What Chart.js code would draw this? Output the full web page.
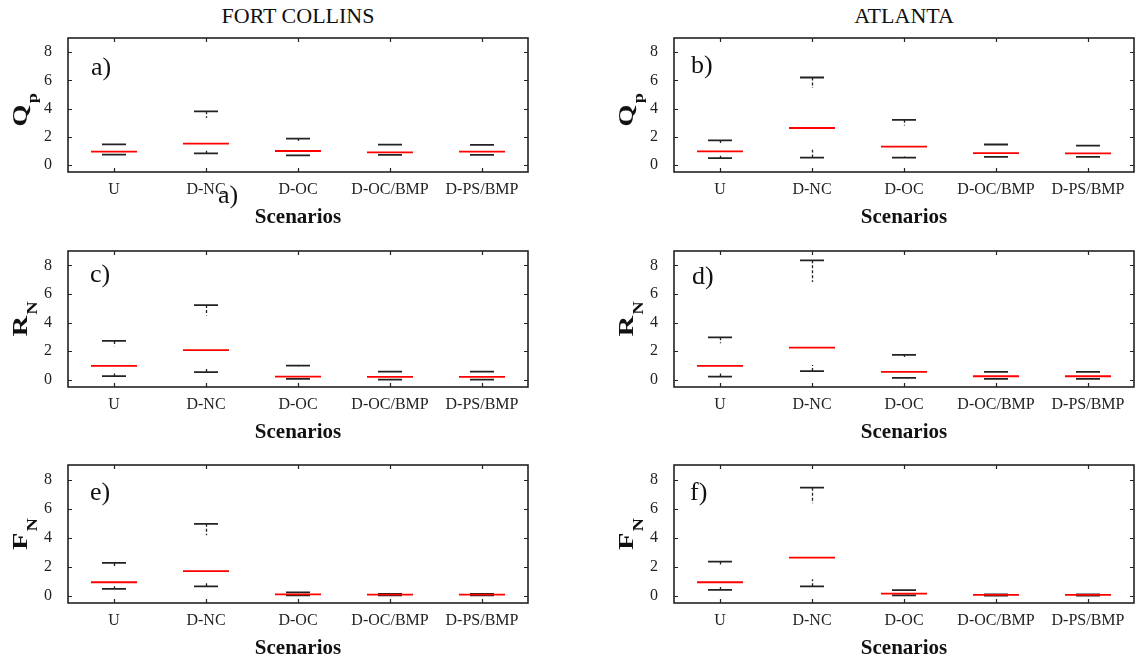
<!DOCTYPE html>
<html><head><meta charset="utf-8">
<script src="https://cdn.jsdelivr.net/npm/chart.js@4/dist/chart.umd.min.js"></script>
<style>
html,body{margin:0;padding:0;background:#fff;width:1139px;height:662px;overflow:hidden;position:relative;}
canvas{position:absolute;}
.coltitle{position:absolute;font-family:'Liberation Serif',serif;font-size:22px;line-height:22px;color:#111;transform:translateX(-50%);white-space:nowrap;}
</style></head><body>
<div class="coltitle" style="left:298px;top:5px">FORT COLLINS</div>
<div class="coltitle" style="left:904px;top:5px">ATLANTA</div>
<script>
const categories = ['U','D-NC','D-OC','D-OC/BMP','D-PS/BMP'];
const yTicks = [0,2,4,6,8];

// a) Fort Collins Qp
const aUpper  = [1.46, 3.80, 1.86, 1.44, 1.42];
const aQ3     = [1.46, 3.33, 1.70, 1.44, 1.42];
const aMedian = [0.94, 1.51, 0.99, 0.89, 0.94];
const aQ1     = [0.73, 1.00, 0.68, 0.71, 0.71];
const aLower  = [0.73, 0.82, 0.68, 0.71, 0.71];
// b) Atlanta Qp
const bUpper  = [1.74, 6.20, 3.20, 1.45, 1.37];
const bQ3     = [1.55, 5.45, 2.80, 1.45, 1.37];
const bMedian = [0.96, 2.62, 1.30, 0.84, 0.82];
const bQ1     = [0.66, 1.08, 0.60, 0.57, 0.57];
const bLower  = [0.49, 0.52, 0.52, 0.57, 0.57];
// c) Fort Collins RN
const cUpper  = [2.72, 5.22, 1.00, 0.58, 0.58];
const cQ3     = [2.34, 4.49, 0.95, 0.58, 0.58];
const cMedian = [0.98, 2.08, 0.23, 0.21, 0.21];
const cQ1     = [0.44, 0.86, 0.07, 0.02, 0.02];
const cLower  = [0.26, 0.54, 0.07, 0.02, 0.02];
// d) Atlanta RN
const dUpper  = [2.97, 8.35, 1.75, 0.56, 0.56];
const dQ3     = [2.55, 6.83, 1.60, 0.56, 0.56];
const dMedian = [0.98, 2.25, 0.56, 0.25, 0.25];
const dQ1     = [0.44, 1.03, 0.14, 0.07, 0.07];
const dLower  = [0.23, 0.61, 0.14, 0.07, 0.07];
// e) Fort Collins FN
const eUpper  = [2.26, 4.95, 0.23, 0.13, 0.13];
const eQ3     = [1.96, 4.16, 0.23, 0.13, 0.13];
const eMedian = [0.93, 1.70, 0.10, 0.08, 0.08];
const eQ1     = [0.65, 0.93, 0.02, 0.03, 0.03];
const eLower  = [0.47, 0.65, 0.02, 0.03, 0.03];
// f) Atlanta FN
const fUpper  = [2.35, 7.44, 0.38, 0.10, 0.10];
const fQ3     = [2.02, 6.37, 0.38, 0.10, 0.10];
const fMedian = [0.93, 2.63, 0.14, 0.06, 0.06];
const fQ1     = [0.61, 1.14, 0.03, 0.01, 0.01];
const fLower  = [0.40, 0.65, 0.03, 0.01, 0.01];

Chart.defaults.font.family = "'Liberation Serif', serif";
const INK = '#222';

function panelPlugin(upper, q3, q1, lower, yMain, ySub, letter, lx, ly, tShift, extraText) {
  return {
    id: 'panelDecor',
    beforeDatasetsDraw(chart) {
      const {ctx, scales:{x, y}} = chart;
      ctx.save();
      ctx.strokeStyle = INK; ctx.lineWidth = 1.3; ctx.setLineDash([3, 2]);
      for (let i = 0; i < categories.length; i++) {
        const px = Math.round(x.getPixelForValue(i)) + 0.5;
        ctx.beginPath();
        ctx.moveTo(px, y.getPixelForValue(upper[i])); ctx.lineTo(px, y.getPixelForValue(q3[i]));
        ctx.moveTo(px, y.getPixelForValue(lower[i])); ctx.lineTo(px, y.getPixelForValue(q1[i]));
        ctx.stroke();
      }
      ctx.restore();
    },
    afterDraw(chart) {
      const {ctx, chartArea:a, scales:{x, y}} = chart;
      ctx.save();
      ctx.strokeStyle = INK; ctx.lineWidth = 1.6;
      ctx.strokeRect(a.left, a.top, a.right - a.left, a.bottom - a.top);
      ctx.lineWidth = 1.2; ctx.beginPath();
      const tl = 4;
      x.ticks.forEach((t, i) => {
        const px = Math.round(x.getPixelForTick(i)) + 0.5;
        ctx.moveTo(px, a.bottom); ctx.lineTo(px, a.bottom - tl);
        ctx.moveTo(px, a.top); ctx.lineTo(px, a.top + tl);
      });
      y.ticks.forEach(t => {
        const py = Math.round(y.getPixelForValue(t.value)) + 0.5;
        ctx.moveTo(a.left, py); ctx.lineTo(a.left + tl, py);
        ctx.moveTo(a.right, py); ctx.lineTo(a.right - tl, py);
      });
      ctx.stroke();
      const cy = (a.top + a.bottom) / 2 + tShift;
      ctx.translate(a.left - 41, cy);
      ctx.rotate(-Math.PI / 2);
      ctx.scale(1.3, 1);
      ctx.fillStyle = '#111';
      ctx.textBaseline = 'alphabetic'; ctx.textAlign = 'left';
      ctx.font = "bold 22px 'Liberation Serif'";
      const wm = ctx.measureText(yMain).width;
      ctx.font = "bold 14px 'Liberation Serif'";
      const ws = ctx.measureText(ySub).width;
      const start = -(wm + ws + 1) / 2;
      ctx.font = "bold 22px 'Liberation Serif'";
      ctx.fillText(yMain, start, 0);
      ctx.font = "bold 14px 'Liberation Serif'";
      ctx.fillText(ySub, start + wm + 1, 10);
      ctx.restore();
      ctx.save();
      ctx.fillStyle = '#111';
      ctx.font = "26px 'Liberation Serif'";
      ctx.textBaseline = 'middle'; ctx.textAlign = 'left';
      ctx.fillText(letter, a.left + lx, a.top + ly);
      if (extraText) ctx.fillText(extraText, a.left + 150, a.top + 158);
      ctx.restore();
    }
  };
}

function makePanel(left, top, width, height, padL, padR, upper, q3, median, q1, lower, yMain, ySub, letter, lx, ly, tShift, extraText) {
  const cv = document.createElement('canvas');
  cv.width = width; cv.height = height;
  cv.style.left = left + 'px'; cv.style.top = top + 'px';
  cv.style.width = width + 'px'; cv.style.height = height + 'px';
  document.body.appendChild(cv);
  const pt = (d, color, r) => ({
    data: d, showLine: false, pointStyle: 'line', pointRadius: r,
    pointHoverRadius: r, pointBorderColor: color, pointBackgroundColor: color,
    pointBorderWidth: 1.8, borderColor: color
  });
  new Chart(cv, {
    type: 'line',
    data: {
      labels: categories,
      datasets: [pt(median, '#ff0000', 23), pt(upper, INK, 12), pt(lower, INK, 12)]
    },
    options: {
      responsive: false, animation: false, events: [], devicePixelRatio: 1,
      layout: {autoPadding: false, padding: {left: padL, right: padR, top: 20, bottom: 0}},
      plugins: {legend: {display: false}, tooltip: {enabled: false}},
      scales: {
        x: {
          type: 'category', offset: true,
          grid: {display: false}, border: {display: false},
          ticks: {color: INK, font: {size: 16}, padding: 0, maxRotation: 0, autoSkip: false},
          title: {display: true, text: 'Scenarios', color: '#111',
                  font: {size: 21, weight: 'bold'}, padding: {top: 0, bottom: 1.4}},
          afterFit(s) { s.height = 60; s.paddingLeft = 0; s.paddingRight = 0; }
        },
        y: {
          min: -0.5, max: 9,
          afterBuildTicks(s) { s.ticks = yTicks.map(v => ({value: v})); },
          grid: {display: false}, border: {display: false},
          ticks: {color: INK, font: {size: 16}, padding: 8},
          afterFit(s) { s.width = 60; s.paddingTop = 0; s.paddingBottom = 0; }
        }
      }
    },
    plugins: [panelPlugin(upper, q3, q1, lower, yMain, ySub, letter, lx, ly, tShift, extraText)]
  });
}

makePanel(0,   18, 560, 214, 8, 32, aUpper, aQ3, aMedian, aQ1, aLower, 'Q', 'p', 'a)', 23, 30, 5, 'a)');
makePanel(580, 18, 559, 214, 34, 5, bUpper, bQ3, bMedian, bQ1, bLower, 'Q', 'p', 'b)', 17, 28, 5);
makePanel(0,  231, 560, 216, 8, 32, cUpper, cQ3, cMedian, cQ1, cLower, 'R', 'N', 'c)', 22, 24, 0);
makePanel(580,231, 559, 216, 34, 5, dUpper, dQ3, dMedian, dQ1, dLower, 'R', 'N', 'd)', 18, 26, 0);
makePanel(0,  445, 560, 218, 8, 32, eUpper, eQ3, eMedian, eQ1, eLower, 'F', 'N', 'e)', 22, 28, 0);
makePanel(580,445, 559, 218, 34, 5, fUpper, fQ3, fMedian, fQ1, fLower, 'F', 'N', 'f)', 16, 28, 0);
</script>
</body></html>
